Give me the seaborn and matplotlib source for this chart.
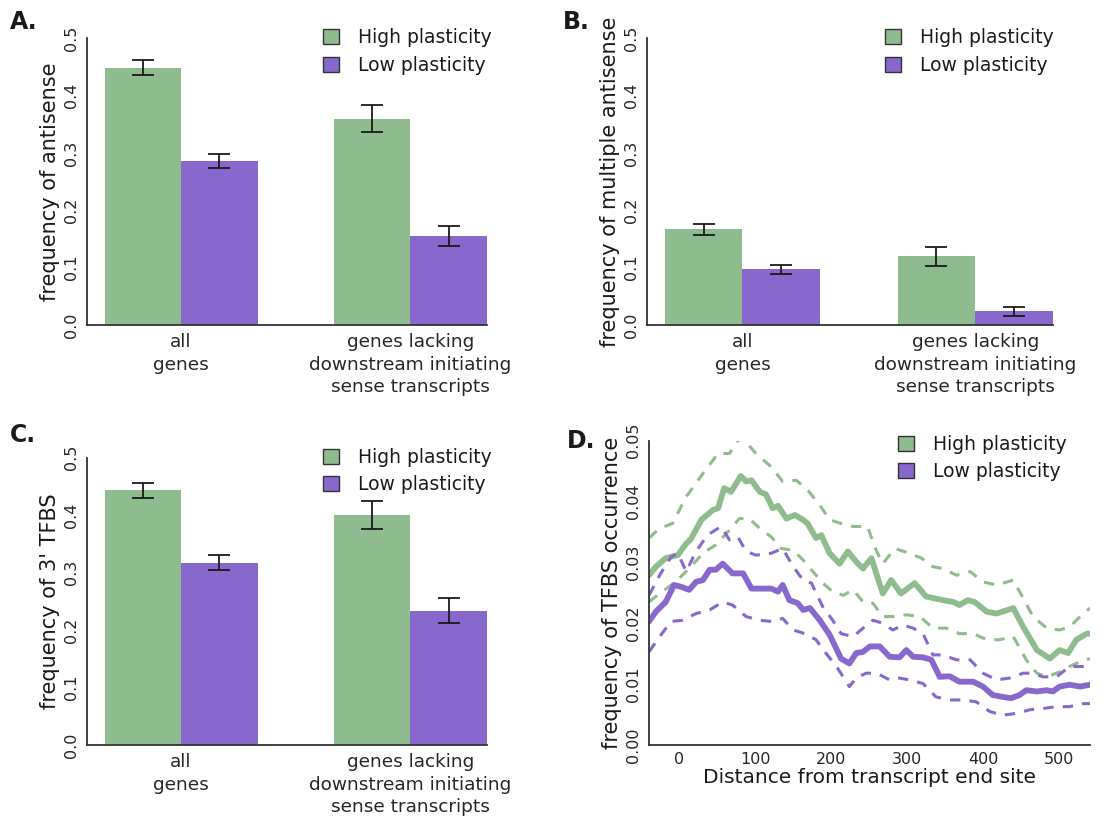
#Recreates the four panel plasticity figure (bars A-C, TFBS profile D)

import seaborn as sns
import matplotlib.pyplot as plt
import numpy as np
import pandas as pd
from matplotlib.patches import Patch

groups = ['all\ngenes', 'genes lacking\ndownstream initiating\nsense transcripts']
series = ['High plasticity', 'Low plasticity']
colors = {'High plasticity': '#8FBC8F', 'Low plasticity': '#8968CD'}

# panel A - frequency of antisense
a_high = [0.449, 0.360]
a_low = [0.286, 0.155]
a_high_err = [0.0125, 0.024]
a_low_err = [0.012, 0.018]

# panel B - frequency of multiple antisense
b_high = [0.167, 0.120]
b_low = [0.097, 0.024]
b_high_err = [0.0098, 0.0166]
b_low_err = [0.0084, 0.008]

# panel C - frequency of 3' TFBS
c_high = [0.443, 0.400]
c_low = [0.317, 0.234]
c_high_err = [0.0137, 0.0246]
c_low_err = [0.0128, 0.021]

# panel D - TFBS occurrence vs distance (mean and upper/lower bounds)
hi_x = [-40, -31, -18, -2, 9, 15, 29, 44, 51, 59, 68, 81, 88, 95, 106, 114, 123, 130, 141, 152,
        163, 169, 180, 187, 198, 211, 222, 233, 242, 253, 268, 279, 292, 310, 325, 347, 361, 369,
        380, 389, 405, 418, 440, 453, 471, 488, 501, 512, 523, 537, 541]
hi_y = [0.0279, 0.0293, 0.0307, 0.0312, 0.0331, 0.0338, 0.0370, 0.0386, 0.0389, 0.0422, 0.0416,
        0.0442, 0.0433, 0.0435, 0.0416, 0.0412, 0.0389, 0.0393, 0.0372, 0.0378, 0.0370, 0.0364,
        0.0340, 0.0345, 0.0315, 0.0298, 0.0318, 0.0301, 0.0290, 0.0307, 0.0249, 0.0271, 0.0249,
        0.0266, 0.0244, 0.0238, 0.0235, 0.0230, 0.0238, 0.0235, 0.0219, 0.0216, 0.0225, 0.0194,
        0.0156, 0.0142, 0.0156, 0.0151, 0.0173, 0.0183, 0.0183]
hi_up_x = [-40, -26, -9, 9, 31, 51, 66, 81, 101, 121, 136, 154, 169, 185, 198, 213, 229, 248, 257,
           268, 284, 303, 319, 334, 347, 365, 383, 400, 418, 440, 453, 466, 484, 501, 514, 528, 541]
hi_up_y = [0.0340, 0.0356, 0.0364, 0.0408, 0.0446, 0.0479, 0.0479, 0.0507, 0.0479, 0.0457, 0.0433,
           0.0435, 0.0419, 0.0394, 0.0370, 0.0364, 0.0359, 0.0359, 0.0326, 0.0298, 0.0323, 0.0315,
           0.0307, 0.0293, 0.0290, 0.0279, 0.0285, 0.0268, 0.0263, 0.0271, 0.0241, 0.0211, 0.0192,
           0.0189, 0.0194, 0.0211, 0.0225]
hi_lo_x = [-40, -26, -7, 13, 31, 48, 66, 79, 92, 106, 121, 134, 150, 163, 178, 189, 202, 216, 229,
           242, 255, 268, 284, 299, 317, 334, 352, 369, 387, 405, 422, 440, 457, 471, 484, 501, 514,
           528, 541]
hi_lo_y = [0.0235, 0.0249, 0.0266, 0.0290, 0.0315, 0.0329, 0.0353, 0.0372, 0.0372, 0.0356, 0.0342,
           0.0323, 0.0320, 0.0304, 0.0282, 0.0266, 0.0252, 0.0246, 0.0255, 0.0235, 0.0233, 0.0211,
           0.0211, 0.0214, 0.0211, 0.0192, 0.0192, 0.0183, 0.0183, 0.0173, 0.0173, 0.0178, 0.0140,
           0.0118, 0.0112, 0.0120, 0.0129, 0.0137, 0.0142]

lo_x = [-40, -31, -18, -7, 2, 13, 22, 31, 40, 48, 57, 70, 84, 95, 106, 121, 130, 136, 145, 156,
        163, 172, 185, 198, 213, 224, 233, 242, 251, 264, 277, 290, 299, 308, 321, 332, 343, 356,
        369, 387, 400, 413, 426, 437, 448, 457, 471, 484, 492, 501, 514, 528, 541]
lo_y = [0.0203, 0.0219, 0.0235, 0.0263, 0.0260, 0.0255, 0.0268, 0.0271, 0.0288, 0.0288, 0.0298,
        0.0282, 0.0282, 0.0257, 0.0257, 0.0257, 0.0252, 0.0263, 0.0238, 0.0233, 0.0222, 0.0225,
        0.0205, 0.0181, 0.0142, 0.0134, 0.0151, 0.0153, 0.0162, 0.0162, 0.0145, 0.0144, 0.0156,
        0.0145, 0.0144, 0.0140, 0.0112, 0.0113, 0.0104, 0.0104, 0.0096, 0.0082, 0.0079, 0.0077,
        0.0082, 0.0090, 0.0088, 0.0090, 0.0088, 0.0096, 0.0099, 0.0096, 0.0099]
lo_up_x = [-40, -26, -11, -2, 9, 22, 37, 55, 66, 77, 88, 101, 121, 136, 150, 163, 174, 189, 202,
           213, 229, 242, 255, 268, 281, 295, 308, 321, 334, 347, 365, 383, 400, 418, 435, 453, 466,
           479, 497, 514, 528, 541]
lo_up_y = [0.0246, 0.0279, 0.0309, 0.0315, 0.0285, 0.0318, 0.0345, 0.0359, 0.0337, 0.0342, 0.0318,
           0.0312, 0.0315, 0.0323, 0.0293, 0.0271, 0.0266, 0.0227, 0.0205, 0.0183, 0.0178, 0.0192,
           0.0205, 0.0200, 0.0189, 0.0197, 0.0192, 0.0183, 0.0148, 0.0148, 0.0140, 0.0140, 0.0118,
           0.0107, 0.0110, 0.0118, 0.0118, 0.0112, 0.0112, 0.0129, 0.0129, 0.0129]
lo_lo_x = [-40, -26, -11, 4, 22, 40, 57, 70, 88, 106, 121, 136, 150, 165, 180, 193, 207, 224, 233,
           246, 260, 277, 290, 303, 321, 338, 356, 374, 391, 409, 426, 444, 462, 479, 497, 514, 532,
           541]
lo_lo_y = [0.0153, 0.0178, 0.0203, 0.0205, 0.0216, 0.0222, 0.0235, 0.0230, 0.0211, 0.0205, 0.0203,
           0.0208, 0.0189, 0.0183, 0.0173, 0.0151, 0.0129, 0.0096, 0.0110, 0.0118, 0.0118, 0.0107,
           0.0110, 0.0107, 0.0101, 0.0079, 0.0074, 0.0074, 0.0071, 0.0055, 0.0049, 0.0052, 0.0058,
           0.0060, 0.0063, 0.0063, 0.0068, 0.0068]

sns.set_style('white')
plt.rcParams['font.family'] = ['DejaVu Sans']
plt.rcParams['text.color'] = '#1a1a1a'
plt.rcParams['axes.labelcolor'] = '#1a1a1a'

W, H = 1104, 819
fig = plt.figure(figsize=(W / 100, H / 100), dpi=100)


def px_axes(left, top, right, bottom):
    #Convert pixel box of the reference into figure fraction
    return fig.add_axes([left / W, 1 - bottom / H, (right - left) / W, (bottom - top) / H])


def style_axes(ax):
    sns.despine(ax=ax)
    for s in ['left', 'bottom']:
        ax.spines[s].set_color('#333333')
        ax.spines[s].set_linewidth(1.3)
    ax.tick_params(axis='y', length=3, width=1, color='#333333', pad=3,
                   labelsize=11.5, labelrotation=90)
    for lbl in ax.get_yticklabels():
        lbl.set_va('center')


def add_legend(ax, x, y):
    handles = [Patch(facecolor=colors[s], edgecolor='#333333', linewidth=1, label=s) for s in series]
    ax.legend(handles=handles, loc='upper left', bbox_to_anchor=(x, y), frameon=False,
              fontsize=13.5, handlelength=0.85, handleheight=0.85, handletextpad=1.0,
              labelspacing=0.45, borderpad=0, borderaxespad=0)


def plot_bars(ax, high, low, high_err, low_err, ylabel, leg_x):
    df = pd.DataFrame({'group': groups * 2,
                       'plasticity': [series[0]] * 2 + [series[1]] * 2,
                       'value': high + low})
    sns.barplot(data=df, x='group', y='value', hue='plasticity', palette=colors,
                order=groups, hue_order=series, width=0.667, errorbar=None,
                saturation=1, linewidth=0, legend=False, ax=ax)
    #Error bars placed at the centers of the drawn bars
    errs = high_err + low_err
    vals = high + low
    centers = [p.get_x() + p.get_width() / 2 for p in ax.patches[:4]]
    ax.errorbar(centers, vals, yerr=errs, fmt='none', ecolor='#1a1a1a',
                elinewidth=1.3, capsize=8, capthick=1.3)
    ax.set_ylim(0, 0.5)
    ax.set_xlim(-0.41, 1.334)
    ax.set_yticks(np.arange(0, 0.51, 0.1))
    ax.set_yticklabels(['%.1f' % v for v in np.arange(0, 0.51, 0.1)])
    ax.set_xlabel('')
    ax.set_ylabel(ylabel, fontsize=15, labelpad=3)
    style_axes(ax)
    ax.tick_params(axis='x', length=0, pad=6, labelsize=13.3)
    for lbl in ax.get_xticklabels():
        lbl.set_linespacing(1.3)
    add_legend(ax, leg_x, 1.035)


ax_a = px_axes(87, 38.3, 487, 325)
plot_bars(ax_a, a_high, a_low, a_high_err, a_low_err, 'frequency of antisense', 0.59)

ax_b = px_axes(647, 38.3, 1053, 325)
plot_bars(ax_b, b_high, b_low, b_high_err, b_low_err, 'frequency of multiple antisense', 0.586)

ax_c = px_axes(87, 457.7, 487, 745)
plot_bars(ax_c, c_high, c_low, c_high_err, c_low_err, "frequency of 3' TFBS", 0.59)

ax_d = px_axes(649, 440.7, 1090, 745)
dash = (0, (3.4, 3.0))
sns.lineplot(x=hi_x, y=hi_y, color=colors['High plasticity'], lw=4.2, ax=ax_d)
sns.lineplot(x=hi_up_x, y=hi_up_y, color=colors['High plasticity'], lw=2.2, ax=ax_d, linestyle=dash)
sns.lineplot(x=hi_lo_x, y=hi_lo_y, color=colors['High plasticity'], lw=2.2, ax=ax_d, linestyle=dash)
sns.lineplot(x=lo_x, y=lo_y, color=colors['Low plasticity'], lw=4.2, ax=ax_d)
sns.lineplot(x=lo_up_x, y=lo_up_y, color=colors['Low plasticity'], lw=2.2, ax=ax_d, linestyle=dash)
sns.lineplot(x=lo_lo_x, y=lo_lo_y, color=colors['Low plasticity'], lw=2.2, ax=ax_d, linestyle=dash)
ax_d.set_xlim(-40, 541)
ax_d.set_ylim(0, 0.05)
ax_d.set_xticks([0, 100, 200, 300, 400, 500])
ax_d.set_yticks(np.arange(0, 0.051, 0.01))
ax_d.set_yticklabels(['%.2f' % v for v in np.arange(0, 0.051, 0.01)])
ax_d.set_xlabel('Distance from transcript end site', fontsize=14.5, labelpad=1)
ax_d.set_ylabel('frequency of TFBS occurrence', fontsize=15, labelpad=3)
style_axes(ax_d)
ax_d.tick_params(axis='x', length=3, width=1, color='#333333', pad=2, labelsize=11.5)
add_legend(ax_d, 0.565, 1.02)

# panel letters
for letter, x, y in [('A.', 10, 10), ('B.', 563, 10), ('C.', 10, 423), ('D.', 567, 429)]:
    fig.text(x / W, 1 - y / H, letter, fontsize=17, fontweight='bold', va='top', ha='left')

fig.savefig('out.png', dpi=100)
